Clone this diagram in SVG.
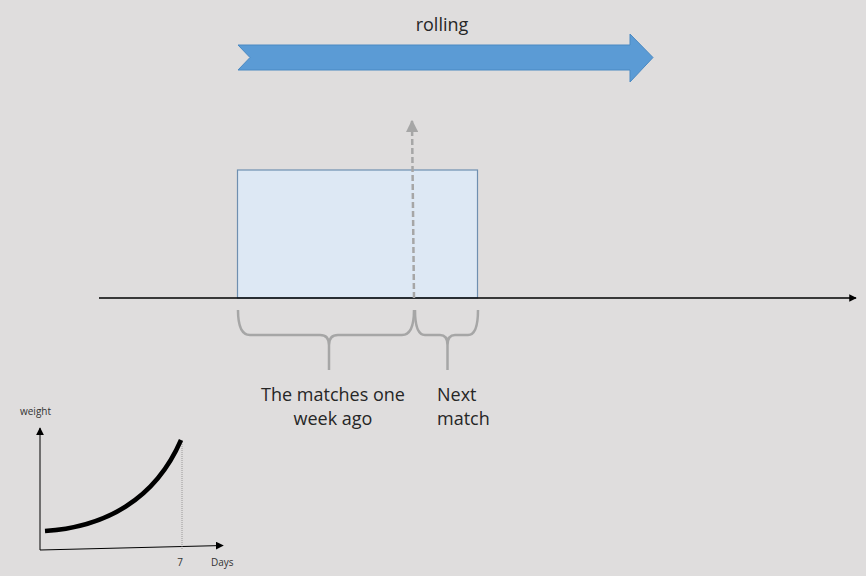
<svg xmlns="http://www.w3.org/2000/svg" width="866" height="576" viewBox="0 0 866 576">
<defs>
<style>
.lbl{font-family:"Open Sans","Liberation Sans",sans-serif;font-size:18px;fill:#262626}
.sm{font-family:"Open Sans","Liberation Sans",sans-serif;font-size:10px;fill:#333}
.brace{fill:none;stroke:#a6a6a6;stroke-width:2.5}
</style>
<marker id="blk" viewBox="0 0 10 10" refX="9" refY="5" markerWidth="5" markerHeight="5" orient="auto" markerUnits="strokeWidth"><path d="M0,0 L10,5 L0,10 z" fill="#000"/></marker>
<marker id="blk2" viewBox="0 0 10 10" refX="9" refY="5" markerWidth="8" markerHeight="8" orient="auto" markerUnits="strokeWidth"><path d="M0,0 L10,5 L0,10 z" fill="#000"/></marker>
<marker id="gry" viewBox="0 0 10 10" refX="9" refY="5" markerWidth="5" markerHeight="5" orient="auto" markerUnits="strokeWidth"><path d="M0,0 L10,5 L0,10 z" fill="#a6a6a6"/></marker>
</defs>
<rect width="866" height="576" fill="#dfdddd"/>
<g id="rolling">
<path d="M238,45 L630,45 L630,34 L653,57.5 L630,82 L630,70 L238,70 L250,57.5 Z" fill="#5b9bd5" stroke="#4a89c2" stroke-width="1"/>
<text class="lbl" x="442" y="31" text-anchor="middle">rolling</text>
</g>
<g id="window">
<rect x="237.5" y="170" width="240" height="128" fill="#dde8f4" stroke="#6f8fb0" stroke-width="1.2"/>
</g>
<g id="connectors">
<line x1="99" y1="298" x2="856" y2="298" stroke="#000" stroke-width="1.5" marker-end="url(#blk)"/>
<line x1="414" y1="298" x2="412" y2="121" stroke="#a6a6a6" stroke-width="2.5" stroke-dasharray="6,3" marker-end="url(#gry)"/>
</g>
<g id="brace-past">
<path class="brace" d="M238,310 Q238,335 250,335 L320,335 Q329,335 329,345 L329,370 M329,345 Q329,335 338,335 L402,335 Q414,335 414,310"/>
<text class="lbl" x="333" y="401" text-anchor="middle">The matches one</text>
<text class="lbl" x="333" y="425" text-anchor="middle">week ago</text>
</g>
<g id="brace-next">
<path class="brace" d="M415,310 Q415,335 425,335 L440,335 Q447.5,335 447.5,345 L447.5,370 M447.5,345 Q447.5,335 455,335 L468,335 Q478,335 478,310"/>
<text class="lbl" x="437" y="401">Next</text>
<text class="lbl" x="437" y="425">match</text>
</g>
<g id="weight-chart">
<text class="sm" x="20" y="415">weight</text>
<line x1="40" y1="550" x2="40" y2="428" stroke="#000" stroke-width="1" marker-end="url(#blk2)"/>
<line x1="40" y1="550" x2="223" y2="545.5" stroke="#000" stroke-width="1" marker-end="url(#blk2)"/>
<line x1="182" y1="440" x2="182" y2="550" stroke="#888" stroke-width="0.8" stroke-dasharray="1,1"/>
<path d="M45,531 C105,527 155,500 181,440" fill="none" stroke="#000" stroke-width="4.5"/>
<text class="sm" x="180" y="566" text-anchor="middle">7</text>
<text class="sm" x="211" y="566">Days</text>
</g>
</svg>
